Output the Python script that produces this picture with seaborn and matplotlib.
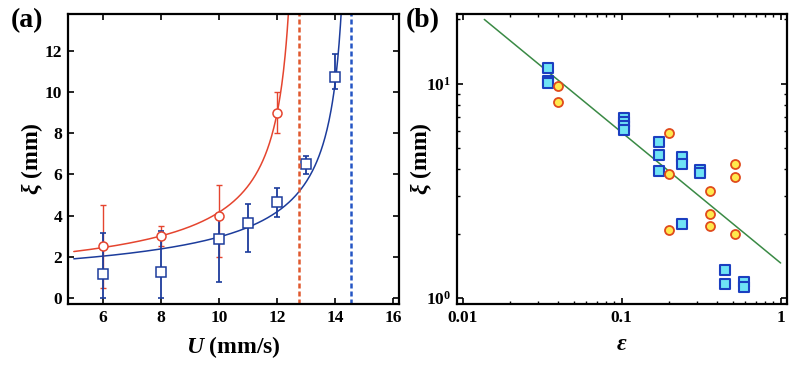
import numpy as np
import pandas as pd
import seaborn as sns
import matplotlib
matplotlib.use('Agg')
import matplotlib.pyplot as plt
from matplotlib.ticker import NullFormatter, LogLocator

# (a) dados: xi vs U
u_red = [6, 8, 10, 12]
xi_red = [2.5, 3.0, 4.0, 9.0]
err_red_lo = [2.0, 0.5, 2.0, 1.0]
err_red_hi = [2.0, 0.5, 1.5, 1.0]

u_blue = [6, 8, 10, 11, 12, 13, 14]
xi_blue = [1.15, 1.25, 2.85, 3.65, 4.65, 6.5, 10.75]
err_blue_lo = [1.15, 1.25, 2.1, 1.4, 0.7, 0.5, 0.6]
err_blue_hi = [2.0, 2.0, 1.15, 0.9, 0.7, 0.4, 1.1]

# parametros dos ajustes xi = A / (Uc - U)^nu
uc_red, a_red, nu_red = 12.75, 7.59, 0.594
uc_blue, a_blue, nu_blue = 14.55, 7.34, 0.60

# (b) dados: xi vs epsilon
eps_sq = [0.0346, 0.0346, 0.0346, 0.104, 0.104, 0.104, 0.104,
          0.172, 0.172, 0.172, 0.24, 0.24, 0.24, 0.31, 0.31,
          0.45, 0.45, 0.586, 0.586]
xi_sq = [11.9, 10.3, 10.1, 6.92, 6.62, 6.35, 6.10,
         5.38, 4.67, 3.92, 4.55, 4.24, 2.22, 3.97, 3.83,
         1.36, 1.16, 1.195, 1.13]
eps_ci = [0.040, 0.040, 0.2, 0.2, 0.2, 0.36, 0.36, 0.36, 0.52, 0.52, 0.52]
xi_ci = [9.82, 8.22, 5.93, 3.80, 2.08, 3.17, 2.47, 2.17, 4.22, 3.69, 2.0]

# reta de lei de potencia xi = C * eps^p
c_fit, p_fit = 1.46, -0.61
eps_fit_range = [0.0137, 1.0]

sns.set_style('ticks')
plt.rcParams['font.family'] = ['Liberation Serif', 'DejaVu Serif']
plt.rcParams['font.weight'] = 'bold'
plt.rcParams['mathtext.fontset'] = 'custom'
plt.rcParams['mathtext.rm'] = 'Liberation Serif:bold'
plt.rcParams['mathtext.bf'] = 'Liberation Serif:bold'
plt.rcParams['mathtext.it'] = 'Liberation Serif:bold:italic'
for key in ['text.color', 'axes.labelcolor', 'xtick.color', 'ytick.color']:
    plt.rcParams[key] = 'black'

fig = plt.figure(figsize=(8, 3.68), dpi=100)
ax1 = fig.add_axes([0.085, 0.174, 0.414, 0.788])
ax2 = fig.add_axes([0.571, 0.174, 0.413, 0.788])

red = '#e5452f'
blue = '#1c3c9c'

# ---- painel (a)
u_r = np.linspace(5.0, 12.42, 400)
u_b = np.linspace(5.0, 14.2, 400)
df_r = pd.DataFrame({'U': u_r, 'xi': a_red / (uc_red - u_r) ** nu_red})
df_b = pd.DataFrame({'U': u_b, 'xi': a_blue / (uc_blue - u_b) ** nu_blue})
sns.lineplot(data=df_r, x='U', y='xi', color=red, lw=1.1, ax=ax1)
sns.lineplot(data=df_b, x='U', y='xi', color=blue, lw=1.1, ax=ax1)

ax1.errorbar(u_red, xi_red, yerr=[err_red_lo, err_red_hi], fmt='none',
             ecolor=red, elinewidth=1.0, capsize=2.5, capthick=1.0)
ax1.errorbar(u_blue, xi_blue, yerr=[err_blue_lo, err_blue_hi], fmt='none',
             ecolor=blue, elinewidth=1.3, capsize=2.5, capthick=1.2)
ax1.plot(u_red, xi_red, 'o', mfc='white', mec=red, ms=6.5, mew=1.1)
ax1.plot(u_blue, xi_blue, 's', mfc='white', mec=blue, ms=6.5, mew=1.1)

ax1.axvline(uc_red, color='#e0592e', ls=(0, (2, 1.2)), lw=1.8)
ax1.axvline(uc_blue, color='#2455c4', ls=(0, (2, 1.2)), lw=1.8)

ax1.set_xlim(4.8, 16.2)
ax1.set_ylim(-0.3, 13.8)
ax1.set_xticks([6, 8, 10, 12, 14, 16])
ax1.set_yticks([0, 2, 4, 6, 8, 10, 12])
ax1.set_xlabel(r'$U$ (mm/s)', fontsize=17, fontweight='bold', labelpad=6)
ax1.set_ylabel(r'$\xi$ (mm)', fontsize=17, fontweight='bold', labelpad=0)

# ---- painel (b)
eps_line = np.geomspace(eps_fit_range[0], eps_fit_range[1], 50)
df_line = pd.DataFrame({'eps': eps_line, 'xi': c_fit * eps_line ** p_fit})
sns.lineplot(data=df_line, x='eps', y='xi', color='#3a8a45', lw=1.1, ax=ax2)
sns.scatterplot(x=eps_sq, y=xi_sq, marker='s', s=42, color='#6fe3f5',
                edgecolor='#1b3fc0', linewidth=1.5, ax=ax2, zorder=3)
sns.scatterplot(x=eps_ci, y=xi_ci, marker='o', s=42, color='#ffe94d',
                edgecolor='#e04a1c', linewidth=1.3, ax=ax2, zorder=3)
ax2.set_xscale('log')
ax2.set_yscale('log')
ax2.set_xlim(0.0092, 1.1)
ax2.set_ylim(0.94, 21.2)
ax2.set_xticks([0.01, 0.1, 1])
ax2.set_xticklabels(['0.01', '0.1', '1'])
ax2.set_yticks([1, 10])
ax2.set_yticklabels([r'$10^{0}$', r'$10^{1}$'])
ax2.xaxis.set_minor_locator(LogLocator(base=10, subs=np.arange(2, 10)))
ax2.yaxis.set_minor_locator(LogLocator(base=10, subs=np.arange(2, 10)))
ax2.xaxis.set_minor_formatter(NullFormatter())
ax2.yaxis.set_minor_formatter(NullFormatter())
ax2.set_xlabel(r'$\varepsilon$', fontsize=17, fontweight='bold', labelpad=6)
ax2.set_ylabel(r'$\xi$ (mm)', fontsize=17, fontweight='bold', labelpad=-6)

for ax in (ax1, ax2):
    for s in ax.spines.values():
        s.set_linewidth(1.6)
        s.set_color('black')
    ax.tick_params(which='major', direction='in', length=4, width=1.2,
                   top=True, right=True, labelsize=12.5, pad=4)
    ax.tick_params(which='minor', direction='in', length=2.5, width=1.0,
                   top=True, right=True)
    for lab in ax.get_xticklabels() + ax.get_yticklabels():
        lab.set_fontweight('bold')

fig.text(0.014, 0.925, '(a)', fontsize=20, fontweight='bold')
fig.text(0.507, 0.925, '(b)', fontsize=20, fontweight='bold')

fig.savefig('out.png', dpi=100)
